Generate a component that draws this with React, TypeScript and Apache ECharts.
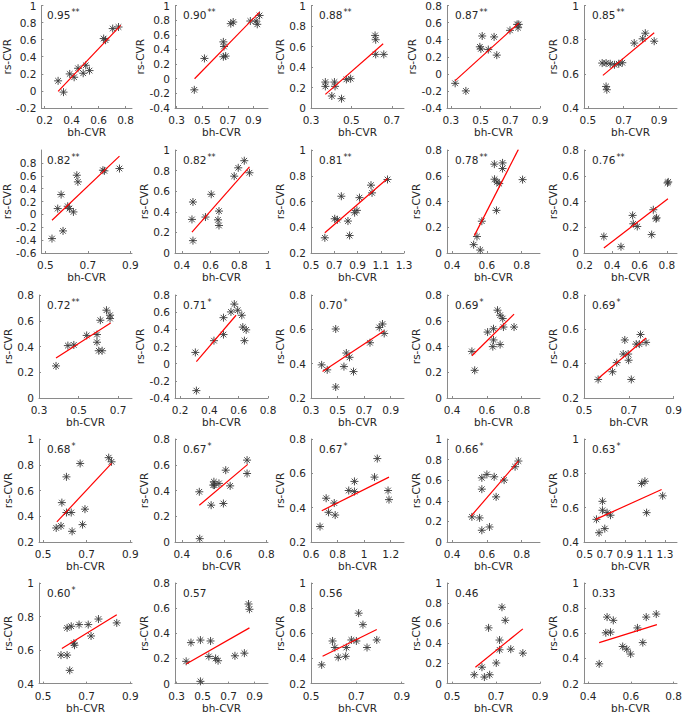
import React, { useEffect, useRef } from "react";
import * as echarts from "echarts";

const correlations = ["0.95","0.90","0.88","0.87","0.85","0.82","0.82","0.81","0.78","0.76","0.72","0.71","0.70","0.69","0.69","0.68","0.67","0.67","0.66","0.63","0.60","0.57","0.56","0.46","0.33"];
const significance = ["**","**","**","**","**","**","**","**","**","**","**","*","*","*","*","*","*","*","*","*","*","","","",""];

const bhCVR: number[][] = [
  [0.300,0.340,0.386,0.419,0.448,0.486,0.505,0.533,0.638,0.652,0.705,0.748],
  [0.438,0.517,0.665,0.683,0.665,0.670,0.723,0.742,0.876,0.921,0.930,0.948],
  [0.371,0.371,0.416,0.419,0.403,0.451,0.475,0.496,0.617,0.620,0.620,0.660],
  [0.329,0.401,0.495,0.502,0.511,0.552,0.591,0.609,0.698,0.746,0.752,0.757],
  [0.580,0.602,0.625,0.649,0.673,0.693,0.602,0.606,0.760,0.807,0.822,0.872],
  [0.531,0.558,0.574,0.583,0.605,0.613,0.632,0.648,0.653,0.771,0.778,0.849],
  [0.471,0.478,0.478,0.565,0.605,0.659,0.652,0.659,0.765,0.793,0.835,0.871],
  [0.619,0.704,0.727,0.761,0.818,0.832,0.875,0.895,0.917,1.016,1.025,1.158],
  [0.524,0.543,0.562,0.571,0.643,0.644,0.658,0.655,0.671,0.690,0.690,0.805],
  [0.340,0.465,0.550,0.555,0.584,0.689,0.701,0.721,0.725,0.805,0.810],
  [0.386,0.446,0.476,0.541,0.593,0.593,0.602,0.619,0.610,0.641,0.659,0.659],
  [0.304,0.311,0.431,0.496,0.496,0.547,0.570,0.593,0.621,0.628,0.639,0.651],
  [0.380,0.422,0.486,0.486,0.548,0.566,0.590,0.620,0.744,0.814,0.838,0.851],
  [0.514,0.530,0.604,0.638,0.638,0.634,0.661,0.676,0.676,0.691,0.695,0.756],
  [0.563,0.627,0.646,0.675,0.682,0.697,0.699,0.711,0.733,0.747,0.752,0.777],
  [0.560,0.582,0.586,0.607,0.607,0.629,0.633,0.670,0.681,0.692,0.801,0.814],
  [0.483,0.485,0.539,0.549,0.552,0.555,0.576,0.597,0.608,0.629,0.709,0.709],
  [0.668,0.714,0.732,0.775,0.782,0.884,0.927,0.927,1.078,1.099,1.180,1.187],
  [0.514,0.558,0.571,0.571,0.571,0.600,0.615,0.642,0.653,0.699,0.762,0.781],
  [0.617,0.677,0.677,0.723,0.757,0.643,0.700,1.067,1.100,1.117,1.277],
  [0.582,0.610,0.610,0.622,0.629,0.665,0.641,0.644,0.707,0.720,0.754,0.838],
  [0.373,0.410,0.483,0.483,0.548,0.561,0.600,0.619,0.749,0.822,0.854,0.861],
  [0.547,0.595,0.605,0.620,0.653,0.656,0.678,0.700,0.710,0.729,0.747,0.790],
  [0.601,0.636,0.647,0.671,0.666,0.701,0.716,0.716,0.727,0.742,0.767,0.822],
  [0.452,0.483,0.489,0.505,0.518,0.562,0.581,0.599,0.631,0.656,0.672,0.719],
];

const rsCVR: number[][] = [
  [0.118,-0.014,0.199,0.160,0.265,0.207,0.300,0.238,0.613,0.594,0.730,0.748],
  [-0.152,0.277,0.300,0.309,0.503,0.440,0.752,0.774,0.788,0.788,0.743,0.864],
  [0.253,0.211,0.253,0.211,0.117,0.091,0.279,0.286,0.708,0.666,0.523,0.523],
  [-0.111,-0.200,0.316,0.292,0.443,0.284,0.432,0.219,0.509,0.579,0.540,0.579],
  [0.663,0.663,0.659,0.653,0.659,0.665,0.526,0.507,0.780,0.805,0.838,0.791],
  [-0.376,0.090,0.308,-0.257,0.126,0.090,0.038,0.608,0.505,0.686,0.676,0.712],
  [0.326,0.120,0.495,0.349,0.570,0.407,0.322,0.267,0.746,0.827,0.896,0.779],
  [0.318,0.466,0.458,0.641,0.448,0.336,0.513,0.531,0.630,0.727,0.667,0.771],
  [0.065,0.128,0.023,0.247,0.690,0.573,0.552,0.331,0.539,0.700,0.656,0.570],
  [0.128,0.049,0.292,0.227,0.206,0.143,0.336,0.266,0.273,0.544,0.552],
  [0.249,0.407,0.412,0.486,0.493,0.433,0.367,0.367,0.604,0.682,0.643,0.617],
  [0.131,-0.314,0.268,0.536,0.339,0.603,0.694,0.623,0.564,0.426,0.268,0.394],
  [0.393,0.364,0.264,0.602,0.383,0.462,0.437,0.354,0.522,0.611,0.631,0.576],
  [0.362,0.215,0.512,0.538,0.451,0.399,0.682,0.643,0.415,0.617,0.551,0.551],
  [0.308,0.353,0.406,0.456,0.538,0.456,0.420,0.308,0.514,0.514,0.570,0.524],
  [0.309,0.325,0.506,0.429,0.706,0.429,0.283,0.810,0.335,0.455,0.855,0.823],
  [0.390,0.026,0.286,0.442,0.468,0.442,0.455,0.299,0.558,0.436,0.636,0.532],
  [0.290,0.455,0.373,0.427,0.357,0.500,0.553,0.494,0.578,0.686,0.500,0.447],
  [0.244,0.234,0.513,0.623,0.114,0.656,0.146,0.633,0.438,0.601,0.731,0.786],
  [0.532,0.637,0.585,0.571,0.556,0.454,0.478,0.741,0.754,0.571,0.669],
  [0.570,0.570,0.732,0.479,0.742,0.752,0.641,0.629,0.752,0.684,0.785,0.762],
  [0.177,0.326,0.346,0.018,0.216,0.339,0.200,0.182,0.221,0.242,0.633,0.591],
  [0.349,0.539,0.487,0.409,0.417,0.487,0.547,0.539,0.760,0.669,0.487,0.547],
  [0.088,0.163,0.065,0.088,0.554,0.205,0.433,0.336,0.759,0.629,0.342,0.303],
  [0.357,0.604,0.729,0.609,0.703,0.495,0.474,0.435,0.643,0.526,0.729,0.753],
];

// regression line end points (bh-CVR, rs-CVR)
const fitBh: number[][] = [
  [0.300,0.764],[0.440,0.948],[0.371,0.657],[0.329,0.757],[0.584,0.872],
  [0.531,0.849],[0.471,0.871],[0.619,1.158],[0.528,0.781],[0.340,0.808],
  [0.386,0.662],[0.311,0.582],[0.387,0.851],[0.514,0.756],[0.563,0.777],
  [0.563,0.814],[0.483,0.712],[0.681,1.187],[0.510,0.781],[0.610,1.267],
  [0.586,0.838],[0.373,0.861],[0.551,0.790],[0.606,0.822],[0.452,0.722],
];
const fitRs: number[][] = [
  [-0.006,0.768],[0.000,0.910],[0.133,0.627],[-0.080,0.594],[0.591,0.840],
  [-0.091,0.904],[0.202,0.837],[0.357,0.779],[0.135,0.805],[0.039,0.422],
  [0.310,0.583],[0.024,0.564],[0.354,0.592],[0.328,0.651],[0.314,0.550],
  [0.356,0.810],[0.286,0.603],[0.382,0.578],[0.253,0.786],[0.532,0.706],
  [0.609,0.810],[0.156,0.443],[0.417,0.630],[0.163,0.544],[0.526,0.669],
];

const xLimits: number[][] = [
  [0.176,0.848],[0.287,1.014],[0.300,0.760],[0.274,0.900],[0.478,1.000],
  [0.481,0.908],[0.353,1.000],[0.500,1.300],[0.371,0.905],[0.195,0.874],
  [0.300,0.770],[0.165,0.800],[0.300,1.000],[0.371,0.905],[0.500,0.900],
  [0.481,0.908],[0.368,0.808],[0.600,1.300],[0.371,0.905],[0.493,1.420],
  [0.481,0.908],[0.287,1.004],[0.500,0.910],[0.477,0.900],[0.381,0.816],
];
const xTickValues: number[][] = [
  [0.2,0.4,0.6,0.8],[0.3,0.5,0.7,0.9],[0.3,0.5,0.7],[0.3,0.5,0.7,0.9],[0.5,0.7,0.9],
  [0.5,0.7,0.9],[0.4,0.6,0.8,1],[0.5,0.7,0.9,1.1,1.3],[0.4,0.6,0.8],[0.2,0.4,0.6,0.8],
  [0.3,0.5,0.7],[0.2,0.4,0.6,0.8],[0.3,0.5,0.7,0.9],[0.4,0.6,0.8],[0.5,0.7,0.9],
  [0.5,0.7,0.9],[0.4,0.6,0.8],[0.6,0.8,1,1.2],[0.4,0.6,0.8],[0.5,0.7,0.9,1.1,1.3],
  [0.5,0.7,0.9],[0.3,0.5,0.7,0.9],[0.5,0.7,0.9],[0.5,0.7,0.9],[0.4,0.6,0.8],
];
const yLimits: number[][] = [
  [-0.2,1],[-0.4,1],[0,1],[-0.4,0.8],[0.4,1],
  [-0.6,1],[0,1],[0.2,1],[0,0.8],[0,0.8],
  [0,0.8],[-0.4,0.8],[0.2,0.8],[0,0.8],[0.2,0.8],
  [0.2,1],[0,0.8],[0.2,0.8],[0,1],[0.4,1],
  [0.4,1],[0,0.8],[0.2,1],[0,1],[0.2,1],
];
const yTickValues: number[][] = [
  [-0.2,0,0.2,0.4,0.6,0.8,1],[-0.4,-0.2,0,0.2,0.4,0.6,0.8,1],[0,0.2,0.4,0.6,0.8,1],[-0.4,-0.2,0,0.2,0.4,0.6,0.8],[0.4,0.6,0.8,1],
  [-0.6,-0.4,-0.2,0,0.2,0.4,0.6,0.8],[0,0.2,0.4,0.6,0.8,1],[0.2,0.4,0.6,0.8,1],[0,0.2,0.4,0.6,0.8],[0,0.2,0.4,0.6,0.8],
  [0,0.2,0.4,0.6,0.8],[-0.4,-0.2,0,0.2,0.4,0.6,0.8],[0.2,0.4,0.6,0.8],[0,0.2,0.4,0.6,0.8],[0.2,0.4,0.6,0.8],
  [0.2,0.4,0.6,0.8,1],[0,0.2,0.4,0.6,0.8],[0.2,0.4,0.6,0.8],[0,0.2,0.4,0.6,0.8,1],[0.4,0.6,0.8,1],
  [0.4,0.6,0.8,1],[0,0.2,0.4,0.6,0.8],[0.2,0.4,0.6,0.8,1],[0,0.2,0.4,0.6,0.8,1],[0.2,0.4,0.6,0.8,1],
];

const COL_X = [39, 175, 311, 447, 584];
const ROW_Y = [5, 150, 295, 439, 583];
const PW = 93;
const PH = 103;
const FONT = "DejaVu Sans";
const AXIS_COLOR = "#8a8a8a";
const TEXT_COLOR = "#262626";
const STAR = "path://M5 0L5 10M0 5L10 5M1.5 1.5L8.5 8.5M1.5 8.5L8.5 1.5";

const fmt = (v: number) => String(Math.round(v * 100) / 100);

export default function App() {
  const ref = useRef<HTMLDivElement>(null);
  useEffect(() => {
    const chart = echarts.init(ref.current!, null, { renderer: "svg" });
    const grid: any[] = [];
    const xAxis: any[] = [];
    const yAxis: any[] = [];
    const series: any[] = [];
    const graphic: any[] = [];
    for (let i = 0; i < 25; i++) {
      const r = Math.floor(i / 5);
      const c = i % 5;
      grid.push({ left: COL_X[c], top: ROW_Y[r], width: PW, height: PH });
      xAxis.push({
        type: "value", gridIndex: i, min: xLimits[i][0], max: xLimits[i][1],
        name: "bh-CVR", nameLocation: "middle", nameGap: 15,
        nameTextStyle: { fontFamily: FONT, fontSize: 10.5, color: TEXT_COLOR },
        axisLine: { show: true, onZero: false, lineStyle: { color: AXIS_COLOR, width: 1 } },
        axisTick: { show: true, inside: true, length: 2, customValues: xTickValues[i], lineStyle: { color: AXIS_COLOR } },
        axisLabel: { customValues: xTickValues[i], formatter: fmt, fontFamily: FONT, fontSize: 10.5, color: TEXT_COLOR, margin: 6.5 },
        splitLine: { show: false },
      });
      yAxis.push({
        type: "value", gridIndex: i, min: yLimits[i][0], max: yLimits[i][1],
        name: "rs-CVR", nameLocation: "middle", nameGap: 25,
        nameTextStyle: { fontFamily: FONT, fontSize: 10.5, color: TEXT_COLOR },
        axisLine: { show: true, onZero: false, lineStyle: { color: AXIS_COLOR, width: 1 } },
        axisTick: { show: true, inside: true, length: 2, customValues: yTickValues[i], lineStyle: { color: AXIS_COLOR } },
        axisLabel: { customValues: yTickValues[i], formatter: fmt, fontFamily: FONT, fontSize: 10.5, color: TEXT_COLOR, margin: 5, lineHeight: 11 },
        splitLine: { show: false },
      });
      series.push({
        type: "scatter", xAxisIndex: i, yAxisIndex: i,
        data: bhCVR[i].map((x, k) => [x, rsCVR[i][k]]),
        symbol: STAR, symbolSize: 8,
        itemStyle: { color: "#3a3a3a", borderColor: "#3a3a3a", borderWidth: 1, opacity: 0.9 },
        silent: true,
      });
      series.push({
        type: "line", xAxisIndex: i, yAxisIndex: i,
        data: [[fitBh[i][0], fitRs[i][0]], [fitBh[i][1], fitRs[i][1]]],
        symbol: "none", lineStyle: { color: "#ff0000", width: 1.2 }, silent: true, z: 3,
      });
      const sig = significance[i];
      graphic.push({
        type: "text", x: COL_X[c] + 8, y: ROW_Y[r] + 10,
        style: {
          text: sig ? `{v|${correlations[i]}}{s|${sig}}` : `{v|${correlations[i]}}`,
          verticalAlign: "middle",
          rich: {
            v: { fontFamily: FONT, fontSize: 10.5, fill: TEXT_COLOR, lineHeight: 13 },
            s: { fontFamily: FONT, fontSize: 8, fill: TEXT_COLOR, verticalAlign: "top", lineHeight: 8, padding: [0, 0, 0, 1] },
          },
        },
      });
    }
    chart.setOption({ animation: false, backgroundColor: "#ffffff", grid, xAxis, yAxis, series, graphic });
    return () => chart.dispose();
  }, []);
  return <div ref={ref} style={{ position: "fixed", left: 0, top: 0, width: 685, height: 714, background: "#fff" }} />;
}
